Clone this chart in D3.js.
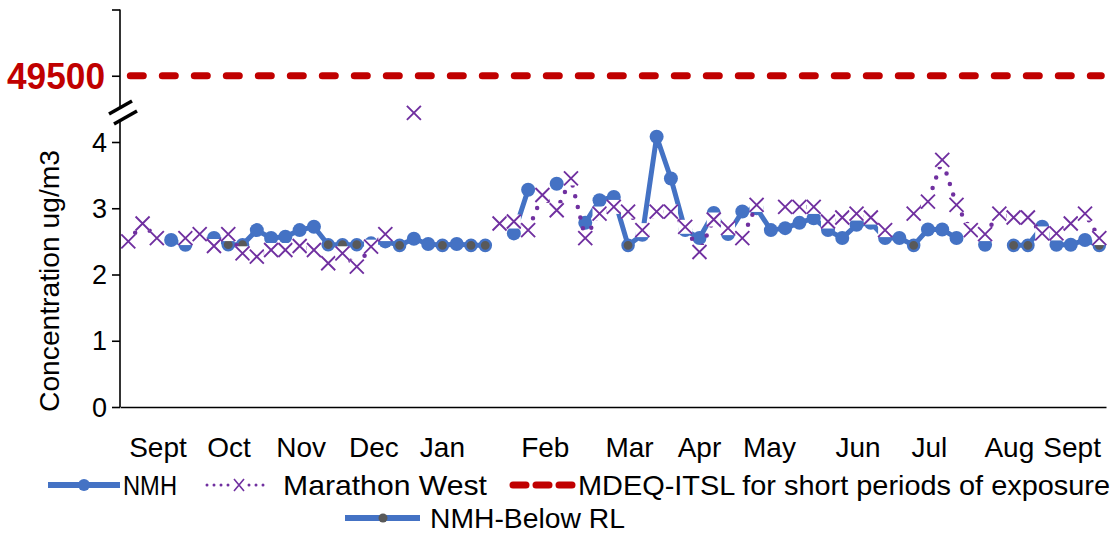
<!DOCTYPE html>
<html><head><meta charset="utf-8">
<script src="https://cdn.jsdelivr.net/npm/d3@7"></script>
<style>body{margin:0;background:#fff} svg{display:block} text{font-family:"Liberation Sans",Arial,sans-serif}</style>
</head><body><svg id="c" width="1116" height="534"></svg>
<script>
// ---- data (sample index 0..68, roughly every 6 days) ----
const sampleIndex = d3.range(69);
const nmh = [null,null,null,2.52,2.45,null,2.55,null,null,2.67,2.55,2.57,2.67,2.72,null,null,null,2.47,2.50,null,
  2.54,2.46,null,2.46,null,null,null,2.62,3.28,null,3.37,null,2.78,3.12,3.17,null,2.60,4.08,3.45,2.67,
  2.55,2.93,2.61,2.95,3.00,2.67,2.70,2.78,2.85,2.67,2.55,2.75,2.78,2.55,2.55,null,2.68,2.68,2.55,null,
  2.45,null,null,null,2.72,2.45,2.45,2.52,null];
const nmhBelowRL = [null,null,null,null,null,null,null,2.45,2.45,null,null,null,null,null,2.45,2.45,2.45,null,null,2.44,
  null,null,2.44,null,2.44,2.44,null,null,null,null,null,null,null,null,null,2.44,null,null,null,null,
  null,null,null,null,null,null,null,null,null,null,null,null,null,null,null,2.44,null,null,null,null,
  null,null,2.44,2.44,null,null,null,null,2.44];
const marathonWest = [2.50,2.77,2.55,null,2.55,2.61,2.43,2.61,2.32,2.27,2.37,2.37,2.43,2.37,2.17,2.32,2.12,2.42,2.61,null,
  4.44,null,null,null,null,null,2.77,2.80,2.67,3.20,2.97,3.45,2.55,2.92,3.02,2.95,2.67,2.95,2.95,2.72,
  2.34,2.83,2.70,2.55,3.05,null,3.02,3.02,3.02,2.80,2.86,2.92,2.86,2.67,null,2.92,3.10,3.73,3.05,2.67,
  2.61,2.92,2.86,2.86,2.62,2.62,2.77,2.92,2.55];
const itslValue = 49500;
const itslAxisPos = 5;          // position of the 49500 level on the broken axis
const monthLabels = ["Sept","Oct","Nov","Dec","Jan","Feb","Mar","Apr","May","Jun","Jul","Aug","Sept"];
const monthPos = [2.08,7.05,12.1,17.2,22.0,29.2,35.1,40.0,44.9,51.1,56.1,61.7,66.1];
const yTicks = [0,1,2,3,4];
const yTitle = "Concentration ug/m3";
const legendNames = ["NMH","Marathon West","MDEQ-ITSL for short periods of exposure","NMH-Below RL"];

// ---- colours ----
const BLUE = "#4472C4", PURPLE = "#7030A0", RED = "#C00000", GREY = "#595959";

const svg = d3.select("#c");
const x = d3.scaleLinear().domain([0, 68]).range([128.3, 1099.3]);
const y = d3.scaleLinear().domain([0, 6]).range([407, 9.5]);
const axisX = 120;

// ---- axes ----
const yAxisG = svg.append("g").attr("transform", `translate(${axisX},0)`)
  .call(d3.axisLeft(y).tickValues([0,1,2,3,4,5,6]).tickSize(8).tickFormat(""));
yAxisG.select(".domain").attr("stroke","#000").attr("stroke-width",1.6).attr("d",`M-0,${y(6)}V${y(0)}`);
yAxisG.selectAll(".tick line").attr("stroke","#000").attr("stroke-width",1.6);

svg.append("g").selectAll("text").data(yTicks).join("text")
  .attr("x", 107).attr("y", d => y(d)).attr("dy","0.36em")
  .attr("text-anchor","end").attr("font-size",27).attr("fill","#000").text(d => d);

svg.append("text").attr("x",105).attr("y",y(itslAxisPos)).attr("dy","0.36em")
  .attr("text-anchor","end").attr("font-size",37).attr("font-weight","bold").attr("fill",RED)
  .attr("textLength",98).attr("lengthAdjust","spacingAndGlyphs")
  .text(d3.format("d")(itslValue));

// x axis line
const xAxisG = svg.append("g").attr("transform",`translate(0,${y(0)})`)
  .call(d3.axisBottom(d3.scaleLinear().domain([-0.55,68.5]).range([axisX,1106])).tickValues([]).tickSizeOuter(0));
xAxisG.select(".domain").attr("stroke","#000").attr("stroke-width",1.6);

svg.append("g").selectAll("text").data(monthLabels).join("text")
  .attr("x",(d,i)=>x(monthPos[i])).attr("y",457)
  .attr("text-anchor","middle").attr("font-size",28).attr("fill","#000")
  .text(d=>d);

// axis title
svg.append("text").attr("transform","translate(59,281) rotate(-90)")
  .attr("text-anchor","middle").attr("font-size",28).attr("fill","#000")
  .attr("textLength",262).attr("lengthAdjust","spacingAndGlyphs").text(yTitle);

// axis break marks
const bk = svg.append("g");
bk.append("path").attr("d","M109,114 L132,101 L137,111 L114,124 Z").attr("fill","#fff");
bk.append("line").attr("x1",109).attr("y1",114).attr("x2",132).attr("y2",101).attr("stroke","#000").attr("stroke-width",3.5);
bk.append("line").attr("x1",114).attr("y1",124).attr("x2",137).attr("y2",111).attr("stroke","#000").attr("stroke-width",3.5);

// ---- ITSL dashed line ----
svg.append("line").attr("x1",x(0)+2).attr("x2",x(68)+2).attr("y1",y(itslAxisPos)).attr("y2",y(itslAxisPos))
  .attr("stroke",RED).attr("stroke-width",7).attr("stroke-linecap","round").attr("stroke-dasharray","13,19");

// ---- NMH line (NMH + below RL combined) ----
const combined = sampleIndex.map(i => nmh[i] != null ? nmh[i] : nmhBelowRL[i]);
const lineGen = d3.line().defined(d => d.v != null).x(d => x(d.i)).y(d => y(d.v));
svg.append("path").datum(sampleIndex.map(i => ({i, v: combined[i]})))
  .attr("d", lineGen).attr("fill","none").attr("stroke",BLUE).attr("stroke-width",5).attr("stroke-linejoin","round");

svg.append("g").selectAll("circle").data(sampleIndex.filter(i => nmh[i] != null)).join("circle")
  .attr("cx", i => x(i)).attr("cy", i => y(nmh[i])).attr("r",7).attr("fill",BLUE);
svg.append("g").selectAll("circle").data(sampleIndex.filter(i => nmhBelowRL[i] != null)).join("circle")
  .attr("cx", i => x(i)).attr("cy", i => y(nmhBelowRL[i])).attr("r",5.6).attr("fill",GREY)
  .attr("stroke",BLUE).attr("stroke-width",2.4);

// ---- Marathon West ----
svg.append("path").datum(sampleIndex.map(i => ({i, v: marathonWest[i]})))
  .attr("d", lineGen).attr("fill","none").attr("stroke",PURPLE).attr("stroke-width",4.5)
  .attr("stroke-linecap","round").attr("stroke-dasharray","0,11");

const xm = svg.append("g").selectAll("g").data(sampleIndex.filter(i => marathonWest[i] != null)).join("g")
  .attr("transform", i => `translate(${x(i)},${y(marathonWest[i])})`);
const s = 7;
xm.append("rect").attr("x",-s).attr("y",-s).attr("width",2*s).attr("height",2*s).attr("fill","#fff");
xm.append("path").attr("d",`M${-s},${-s}L${s},${s}M${-s},${s}L${s},${-s}`)
  .attr("stroke",PURPLE).attr("stroke-width",1.9).attr("fill","none");

// ---- legend ----
const lg = svg.append("g");
const ly1 = 485, ly2 = 518;
lg.append("line").attr("x1",48).attr("x2",120).attr("y1",ly1).attr("y2",ly1).attr("stroke",BLUE).attr("stroke-width",6);
lg.append("circle").attr("cx",84).attr("cy",ly1).attr("r",6).attr("fill",BLUE);
lg.append("text").attr("x",123).attr("y",ly1).attr("dy","0.36em").attr("font-size",28)
  .attr("textLength",54).attr("lengthAdjust","spacingAndGlyphs").text(legendNames[0]);

lg.append("line").attr("x1",207).attr("x2",270).attr("y1",ly1).attr("y2",ly1).attr("stroke",PURPLE).attr("stroke-width",3)
  .attr("stroke-linecap","round").attr("stroke-dasharray","0,7");
lg.append("rect").attr("x",233).attr("y",ly1-6).attr("width",12).attr("height",12).attr("fill","#fff");
lg.append("path").attr("d",`M234,${ly1-6}L244,${ly1+6}M234,${ly1+6}L244,${ly1-6}`).attr("stroke",PURPLE).attr("stroke-width",1.6);
lg.append("text").attr("x",283).attr("y",ly1).attr("dy","0.36em").attr("font-size",28)
  .attr("textLength",204).attr("lengthAdjust","spacingAndGlyphs").text(legendNames[1]);

lg.append("line").attr("x1",513).attr("x2",572).attr("y1",ly1).attr("y2",ly1).attr("stroke",RED).attr("stroke-width",7)
  .attr("stroke-linecap","round").attr("stroke-dasharray","13,10");
lg.append("text").attr("x",578).attr("y",ly1).attr("dy","0.36em").attr("font-size",28)
  .attr("textLength",532).attr("lengthAdjust","spacingAndGlyphs").text(legendNames[2]);

lg.append("line").attr("x1",345).attr("x2",420).attr("y1",ly2).attr("y2",ly2).attr("stroke",BLUE).attr("stroke-width",6);
lg.append("circle").attr("cx",383).attr("cy",ly2).attr("r",4.5).attr("fill",GREY);
lg.append("text").attr("x",430).attr("y",ly2).attr("dy","0.36em").attr("font-size",28)
  .attr("textLength",195).attr("lengthAdjust","spacingAndGlyphs").text(legendNames[3]);
</script></body></html>
